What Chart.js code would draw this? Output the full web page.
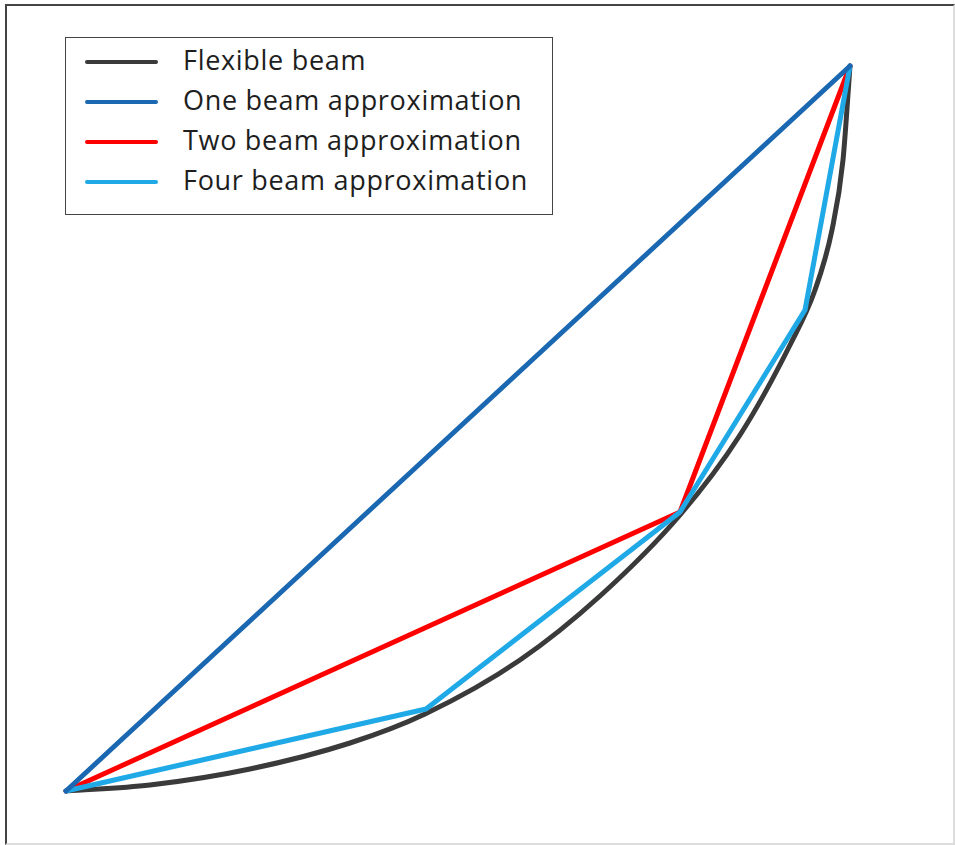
<!DOCTYPE html>
<html>
<head>
<meta charset="utf-8">
<script src="https://cdn.jsdelivr.net/npm/chart.js@4.4.0/dist/chart.umd.min.js"></script>
<style>
  body { margin: 0; background: #fff; }
  #wrap { position: relative; width: 955px; height: 845px; }
  #frame {
    position: absolute; left: 5px; top: 4px; width: 946px; height: 837px;
    border: 2px solid #ddd; border-left-color: #444; border-top-color: #444;
  }
  #beamChart { position: absolute; left: 0; top: 0; }
  #legend {
    position: absolute; left: 65px; top: 37px; width: 486px; height: 176px;
    border: 1.5px solid #444; background: #fff;
    font-family: "Open Sans", sans-serif; font-size: 27px; letter-spacing: 0.7px; color: #1e1e1e;
  }
  .row { position: absolute; left: 0; height: 40px; line-height: 40px; }
  .swatch { position: absolute; left: 19px; top: 18px; width: 73px; height: 4px; border-radius: 2px; }
  .label { position: absolute; left: 117px; top: -2px; white-space: nowrap; }
</style>
</head>
<body>
<div id="wrap">
  <div id="frame"></div>
  <canvas id="beamChart" width="955" height="845"></canvas>
  <div id="legend"></div>
</div>
<script>
// beam shape samples (horizontal position, vertical rise)
const flexX = [0, 84, 184, 284, 359, 454, 534, 614, 674, 724, 749, 766, 777, 784];
const flexY = [0, 6, 22, 48, 77, 131, 195, 276, 356, 446, 501, 561, 631, 725];
const oneX = [0, 784];
const oneY = [0, 725];
const twoX = [0, 614, 784];
const twoY = [0, 279, 725];
const fourX = [0, 360, 614, 739, 784];
const fourY = [0, 82, 279, 481, 725];

const seriesNames = ['Flexible beam', 'One beam approximation', 'Two beam approximation', 'Four beam approximation'];
const seriesColors = ['#3a3a3a', '#1b68b2', '#ff0000', '#1fa9e6'];

function pts(xs, ys) {
  return xs.map((x, i) => ({ x: x, y: ys[i] }));
}

const lineStyle = {
  showLine: true,
  borderWidth: 5,
  pointRadius: 0,
  borderCapStyle: 'round',
  borderJoinStyle: 'round',
  clip: false,
  fill: false
};

const beamCtx = document.getElementById('beamChart').getContext('2d');
new Chart(beamCtx, {
  type: 'scatter',
  data: {
    datasets: [
      Object.assign({ label: seriesNames[0], data: pts(flexX, flexY), borderColor: seriesColors[0],
        tension: 0.4, cubicInterpolationMode: 'monotone', order: 3 }, lineStyle),
      Object.assign({ label: seriesNames[1], data: pts(oneX, oneY), borderColor: seriesColors[1], order: 0 }, lineStyle),
      Object.assign({ label: seriesNames[2], data: pts(twoX, twoY), borderColor: seriesColors[2], order: 2 }, lineStyle),
      Object.assign({ label: seriesNames[3], data: pts(fourX, fourY), borderColor: seriesColors[3], order: 1 }, lineStyle)
    ]
  },
  options: {
    responsive: false,
    animation: false,
    layout: { padding: { left: 66, right: 105, top: 66, bottom: 54 } },
    plugins: { legend: { display: false }, tooltip: { enabled: false } },
    scales: {
      x: { type: 'linear', min: 0, max: 784, display: false },
      y: { type: 'linear', min: 0, max: 725, display: false }
    }
  }
});

// boxed legend
const legend = document.getElementById('legend');
seriesNames.forEach((name, i) => {
  const row = document.createElement('div');
  row.className = 'row';
  row.style.top = (4 + 40 * i) + 'px';
  row.style.width = '100%';
  row.innerHTML = '<div class="swatch" style="background:' + seriesColors[i] + '"></div>' +
    '<span class="label">' + name + '</span>';
  legend.appendChild(row);
});
</script>
</body>
</html>
